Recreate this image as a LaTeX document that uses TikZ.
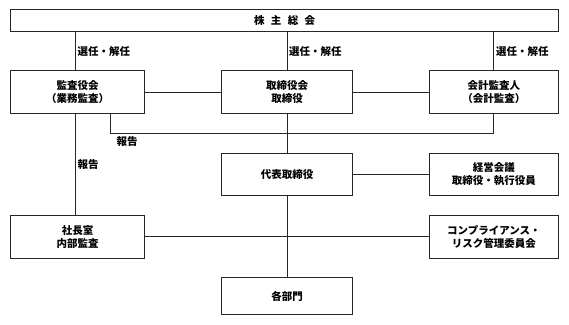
\documentclass[tikz,border=0pt]{standalone}
\usepackage{fontspec}
\setmainfont{Noto Sans CJK JP}
\begin{document}
\begin{tikzpicture}[x=1pt,y=-1pt,
  box/.style={draw=black!85,line width=0.9pt,fill=white,align=center,inner sep=0pt,
    font=\fontsize{10.5}{12.7}\selectfont\bfseries},
  wide/.style={minimum width=133.6pt},
  mid/.style={minimum width=130.6pt},
  lbl/.style={anchor=west,inner sep=0pt,font=\fontsize{10.5}{12.7}\selectfont\bfseries},
  conn/.style={draw=black!85,line width=0.9pt}]
\useasboundingbox (0,0) rectangle (569,324);
% connectors first (behind boxes)
\node[box,minimum width=548.2pt,minimum height=21.6pt] (top) at (284.6,20.5) {株\hspace{0.6em}主\hspace{0.6em}総\hspace{0.6em}会};
\node[box,wide,minimum height=42.6pt] (kansa) at (77.5,92) {監査役会\\（業務監査）};
\node[box,mid,minimum height=42.6pt] (tori) at (287,92) {取締役会\\取締役};
\node[box,minimum width=129.7pt,minimum height=42.6pt] (kaikei) at (493.85,92) {会計監査人\\（会計監査）};
\node[box,mid,minimum height=41.7pt] (daihyo) at (287,174.15) {代表取締役};
\node[box,minimum width=129.7pt,minimum height=41.7pt] (keiei) at (493.85,174.15) {経営会議\\取締役・執行役員};
\node[box,wide,minimum height=42.3pt] (shacho) at (77.5,236.85) {社長室\\内部監査};
\node[box,minimum width=129.7pt,minimum height=42.3pt] (comp) at (493.85,236.85) {コンプライアンス・\\リスク管理委員会};
\node[box,mid,minimum height=36.6pt] (bumon) at (287,296) {各部門};
\coordinate (xl) at (75.7,0);
\coordinate (xm) at (287.7,0);
\coordinate (xr) at (493.7,0);
\coordinate (rp) at (110,133.3);
\begin{scope}[on background layer/.style={}]
\draw[conn] (top.south -| xl) -- (kansa.north -| xl);
\draw[conn] (top.south -| xm) -- (tori.north -| xm);
\draw[conn] (top.south -| xr) -- (kaikei.north -| xr);
\draw[conn] (kansa.east) -- (tori.west);
\draw[conn] (tori.east) -- (kaikei.west);
\draw[conn] (kansa.south -| rp) -- (rp) -- (rp -| xr) -- (kaikei.south -| xr);
\draw[conn] (tori.south -| xm) -- (daihyo.north -| xm);
\draw[conn] (daihyo.east) -- (keiei.west);
\draw[conn] (kansa.south -| xl) -- (shacho.north -| xl);
\draw[conn] (shacho.east) -- (comp.west);
\draw[conn] (daihyo.south -| xm) -- (bumon.north -| xm);
\end{scope}
\node[lbl] (l1) at (77.5,51.7) {選任・解任};
\node[lbl] (l2) at (289,51.7) {選任・解任};
\node[lbl] (l3) at (496,51.7) {選任・解任};
\node[lbl] (l4) at (116.5,141.7) {報告};
\node[lbl] (l5) at (77.5,164.7) {報告};
\end{tikzpicture}
\end{document}
